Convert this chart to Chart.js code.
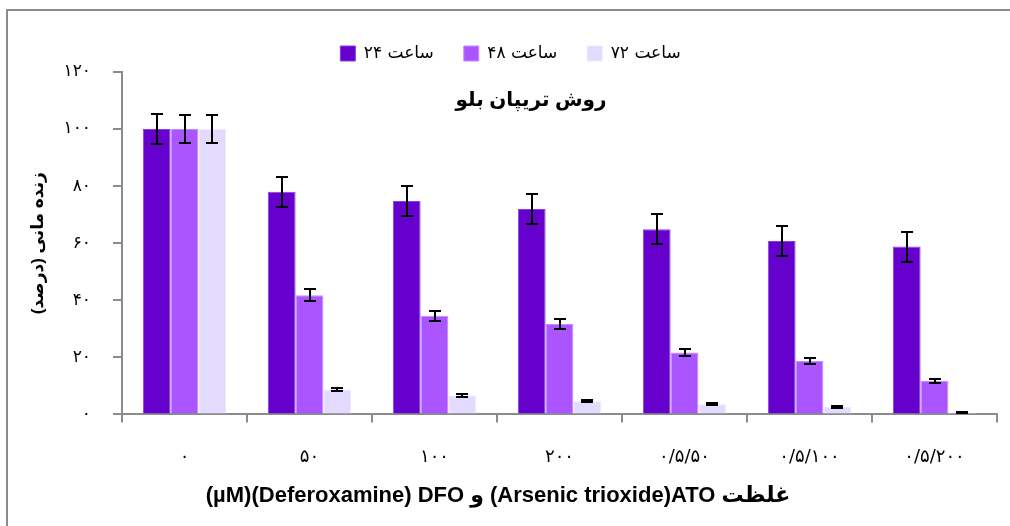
<!DOCTYPE html>
<html lang="fa">
<head>
  <meta charset="UTF-8" />
  <title>روش تریپان بلو</title>
  <style>
    html, body {
      margin: 0;
      padding: 0;
      background: #fff;
      overflow: hidden;
    }
    .frame {
      position: absolute;
      left: 6px;
      top: 9px;
      width: 1100px;
      height: 600px;
      border-left: 2px solid #8c8c8c;
      border-top: 2px solid #8c8c8c;
    }
    .wrap {
      position: absolute;
      left: 0;
      top: 0;
      width: 1010px;
      height: 526px;
    }
  </style>
</head>
<body>
  <div class="frame"></div>
  <div class="wrap"><canvas id="chart"></canvas></div>

  <script src="https://cdn.jsdelivr.net/npm/chart.js"></script>
  <script>
    // concentrations (µM)
    const categories = ['۰', '۵۰', '۱۰۰', '۲۰۰', '۰/۵/۵۰', '۰/۵/۱۰۰', '۰/۵/۲۰۰'];
    const seriesNames = ['۲۴ ساعت', '۴۸ ساعت', '۷۲ ساعت'];

    // viability (%)
    const h24 = [100, 78, 74.8, 72, 64.9, 60.8, 58.8];
    const h48 = [100, 41.8, 34.6, 31.7, 21.7, 18.7, 11.7];
    const h72 = [100, 8.7, 6.6, 4.6, 3.6, 2.6, 0.7];

    // error bars (+/-)
    const err24 = [5.3, 5.3, 5.3, 5.3, 5.3, 5.3, 5.3];
    const err48 = [5, 2.2, 1.8, 1.7, 1.3, 1.1, 0.8];
    const err72 = [5, 0.5, 0.4, 0.3, 0.3, 0.3, 0.3];

    const yTicks = [0, 20, 40, 60, 80, 100, 120];

    const chartTitle = 'روش تریپان بلو';
    const xTitle = '(µM)(Deferoxamine) DFO و (Arsenic trioxide)ATO غلظت';
    const yTitle = 'زنده مانی (درصد)';

    const faDigits = '۰۱۲۳۴۵۶۷۸۹';
    const toFa = n => String(n).replace(/\d/g, d => faDigits[d]);

    const persianFont = "'DejaVu Sans', sans-serif";
    const boldFont = "'Liberation Sans Narrow', 'Liberation Sans', 'DejaVu Sans', sans-serif";

    // draws the +/- whiskers on top of each bar
    const errorBars = {
      id: 'errorBars',
      afterDatasetsDraw(chart) {
        const { ctx, scales: { y } } = chart;
        ctx.save();
        ctx.strokeStyle = '#000';
        ctx.lineWidth = 2;
        chart.data.datasets.forEach((ds, i) => {
          chart.getDatasetMeta(i).data.forEach((bar, j) => {
            const v = ds.data[j], e = ds.errors[j];
            const top = Math.round(y.getPixelForValue(v + e));
            const bot = Math.round(y.getPixelForValue(v - e));
            const x = Math.round(bar.x);
            ctx.beginPath();
            ctx.moveTo(x, top); ctx.lineTo(x, bot);
            ctx.moveTo(x - 6, top); ctx.lineTo(x + 6, top);
            ctx.moveTo(x - 6, bot); ctx.lineTo(x + 6, bot);
            ctx.stroke();
          });
        });
        ctx.restore();
      }
    };

    // chart title sits inside the plot area, x-axis title is off centre
    const titles = {
      id: 'titles',
      afterDraw(chart) {
        const { ctx, chartArea } = chart;
        ctx.save();
        ctx.fillStyle = '#000';
        ctx.textAlign = 'center';
        ctx.textBaseline = 'middle';
        ctx.font = "bold 20px " + boldFont;
        ctx.fillText(chartTitle, chartArea.left + 409, chartArea.top + 28);
        ctx.font = "bold 22px " + boldFont;
        ctx.fillText(xTitle, chartArea.left + 376, chartArea.bottom + 82);
        ctx.restore();
      }
    };

    new Chart(document.getElementById('chart'), {
      type: 'bar',
      data: {
        labels: categories,
        datasets: [
          { label: seriesNames[0], data: h24, errors: err24, backgroundColor: '#6600cc', borderColor: '#8540e0', borderWidth: 1 },
          { label: seriesNames[1], data: h48, errors: err48, backgroundColor: '#aa55ff', borderColor: '#c48cff', borderWidth: 1 },
          { label: seriesNames[2], data: h72, errors: err72, backgroundColor: '#e2daff', borderColor: '#eee9ff', borderWidth: 1 }
        ]
      },
      options: {
        responsive: true,
        maintainAspectRatio: false,
        animation: false,
        layout: { padding: { left: 24, right: 13, top: 15, bottom: 34 } },
        datasets: {
          bar: { categoryPercentage: 0.667, barPercentage: 1 }
        },
        scales: {
          x: {
            grid: { offset: true, drawOnChartArea: false, tickLength: 8, color: '#8c8c8c', lineWidth: 2 },
            border: { color: '#8c8c8c', width: 2 },
            ticks: { color: '#000', padding: 24, font: { family: persianFont, size: 18 } }
          },
          y: {
            min: 0,
            max: 120,
            afterBuildTicks(axis) { axis.ticks = yTicks.map(v => ({ value: v })); },
            afterFit(axis) { axis.width = 98; },
            grid: { drawOnChartArea: false, tickLength: 9, color: '#8c8c8c', lineWidth: 2 },
            border: { color: '#8c8c8c', width: 2 },
            ticks: { color: '#000', padding: 22, font: { family: persianFont, size: 17 }, callback: v => toFa(v) },
            title: { display: true, text: yTitle, color: '#000', font: { family: boldFont, size: 17, weight: 'bold' } }
          }
        },
        plugins: {
          legend: {
            position: 'top',
            labels: {
              color: '#000',
              boxWidth: 15,
              boxHeight: 15,
              padding: 30,
              font: { family: persianFont, size: 17 }
            }
          },
          tooltip: { enabled: false }
        }
      },
      plugins: [errorBars, titles]
    });
  </script>
</body>
</html>
